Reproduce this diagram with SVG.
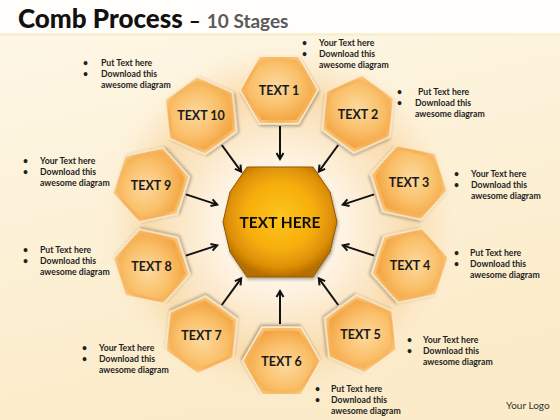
<svg xmlns="http://www.w3.org/2000/svg" xmlns:xlink="http://www.w3.org/1999/xlink" width="560" height="420" viewBox="0 0 560 420">
  <defs>
    <linearGradient id="bg" x1="0" y1="0" x2="0.3" y2="1">
      <stop offset="0" stop-color="#FEF8E8"/>
      <stop offset="1" stop-color="#FBEBC8"/>
    </linearGradient>
    <radialGradient id="glow" cx="280" cy="225" r="185" gradientUnits="userSpaceOnUse">
      <stop offset="0" stop-color="#FFFDF8"/>
      <stop offset="0.35" stop-color="#FEF3E2"/>
      <stop offset="0.72" stop-color="#F9DCAE"/>
      <stop offset="0.86" stop-color="#FBE6C4" stop-opacity="0.6"/>
      <stop offset="1" stop-color="#FCF1D8" stop-opacity="0"/>
    </radialGradient>
    <radialGradient id="hexFace" cx="0.45" cy="0.42" r="0.6">
      <stop offset="0" stop-color="#FCD99E"/>
      <stop offset="0.6" stop-color="#FAC06A"/>
      <stop offset="1" stop-color="#F4A645"/>
    </radialGradient>
    <radialGradient id="hexRim" cx="0.5" cy="0.5" r="0.55">
      <stop offset="0.8" stop-color="#F6B25A"/>
      <stop offset="1" stop-color="#F9C983"/>
    </radialGradient>
    <radialGradient id="core" cx="0.5" cy="0.45" r="0.55">
      <stop offset="0" stop-color="#FDC41E"/>
      <stop offset="0.55" stop-color="#F6AE0C"/>
      <stop offset="0.85" stop-color="#DC8E06"/>
      <stop offset="1" stop-color="#B56E05"/>
    </radialGradient>
    <filter id="shadow" x="-20%" y="-20%" width="140%" height="140%">
      <feGaussianBlur in="SourceAlpha" stdDeviation="1.5"/>
      <feOffset dx="1" dy="2" result="b"/>
      <feComponentTransfer><feFuncA type="linear" slope="0.3"/></feComponentTransfer>
      <feMerge><feMergeNode/><feMergeNode in="SourceGraphic"/></feMerge>
    </filter>
    <polygon id="hexOuter" points="39,0 19.5,33.8 -19.5,33.8 -39,0 -19.5,-33.8 19.5,-33.8"/>
    <polygon id="hexInner" points="34.5,0 17.25,29.9 -17.25,29.9 -34.5,0 -17.25,-29.9 17.25,-29.9"/>
    <marker id="arr" markerWidth="10" markerHeight="10" refX="7" refY="4" orient="auto" markerUnits="userSpaceOnUse" viewBox="0 0 10 8">
      <path d="M1,0.5 L7,4 L1,7.5" fill="none" stroke="#111" stroke-width="2" stroke-linejoin="miter"/>
    </marker>
  </defs>
  <style>
    .title{font-family:Lato,"Open Sans","Liberation Sans",sans-serif;font-weight:900}
    .hex .rim{fill:url(#hexRim);stroke:#FDEBC9;stroke-width:1.5}
    .hex .face{fill:url(#hexFace)}
    .lbl{font-family:Lato,"Open Sans","Liberation Sans",sans-serif;font-weight:bold;font-size:12.5px;fill:#1A1A1A;text-anchor:middle}
    .core{font-family:Lato,"Open Sans","Liberation Sans",sans-serif;font-weight:bold;font-size:15.5px;fill:#111;text-anchor:middle}
    .note{font-family:Lato,"Open Sans","Liberation Sans",sans-serif;font-weight:bold;font-size:8.7px;fill:#1F1F1F}
    .conn line{stroke:#111;stroke-width:2;marker-end:url(#arr)}
  </style>

  <rect width="560" height="420" fill="url(#bg)"/>
  <rect width="560" height="33" fill="#FFFEFA"/>
  <rect y="33" width="560" height="3" fill="#FBEFD3"/>
  <circle cx="280" cy="225" r="185" fill="url(#glow)"/>

  <text class="title" x="18" y="28" font-size="26" fill="#111">Comb Process <tspan font-size="20">–</tspan> <tspan font-size="19" font-weight="bold" fill="#5A5A5A">10 Stages</tspan></text>

  <g id="connectors" class="conn">
    <line x1="280" y1="126" x2="280" y2="159"/>
    <line x1="338.2" y1="145" x2="318.8" y2="171.6"/>
    <line x1="374.1" y1="194.4" x2="342.8" y2="204.6"/>
    <line x1="374.1" y1="255.6" x2="342.8" y2="245.4"/>
    <line x1="338.2" y1="305" x2="318.8" y2="278.4"/>
    <line x1="280" y1="324" x2="280" y2="291"/>
    <line x1="221.8" y1="305" x2="241.2" y2="278.4"/>
    <line x1="185.9" y1="255.6" x2="217.2" y2="245.4"/>
    <line x1="185.9" y1="194.4" x2="217.2" y2="204.6"/>
    <line x1="221.8" y1="145" x2="241.2" y2="171.6"/>
  </g>

  <g id="center" filter="url(#shadow)">
    <polygon points="247,167 313,167 330,192 337,222 330,252 313,277 247,277 230,252 223,222 230,192" fill="url(#core)" stroke="#8C5A08" stroke-width="1"/>
    <text class="core" x="280" y="228">TEXT HERE</text>
  </g>

  <g id="n1" class="hex" transform="translate(279,90)">
    <g filter="url(#shadow)"><use xlink:href="#hexOuter" class="rim"/><use xlink:href="#hexInner" class="face"/></g>
    <text class="lbl" y="4.5">TEXT 1</text>
  </g>
  <g id="n2" class="hex" transform="translate(358,114)">
    <g filter="url(#shadow)" transform="rotate(36)"><use xlink:href="#hexOuter" class="rim"/><use xlink:href="#hexInner" class="face"/></g>
    <text class="lbl" y="4.5">TEXT 2</text>
  </g>
  <g id="n3" class="hex" transform="translate(409,182.5)">
    <g filter="url(#shadow)" transform="rotate(72)"><use xlink:href="#hexOuter" class="rim"/><use xlink:href="#hexInner" class="face"/></g>
    <text class="lbl" y="4.5">TEXT 3</text>
  </g>
  <g id="n4" class="hex" transform="translate(410,265.5)">
    <g filter="url(#shadow)" transform="rotate(108)"><use xlink:href="#hexOuter" class="rim"/><use xlink:href="#hexInner" class="face"/></g>
    <text class="lbl" y="4.5">TEXT 4</text>
  </g>
  <g id="n5" class="hex" transform="translate(360.5,334)">
    <g filter="url(#shadow)" transform="rotate(144)"><use xlink:href="#hexOuter" class="rim"/><use xlink:href="#hexInner" class="face"/></g>
    <text class="lbl" y="4.5">TEXT 5</text>
  </g>
  <g id="n6" class="hex" transform="translate(281.5,361)">
    <g filter="url(#shadow)" transform="rotate(180)"><use xlink:href="#hexOuter" class="rim"/><use xlink:href="#hexInner" class="face"/></g>
    <text class="lbl" y="4.5">TEXT 6</text>
  </g>
  <g id="n7" class="hex" transform="translate(201.5,335)">
    <g filter="url(#shadow)" transform="rotate(216)"><use xlink:href="#hexOuter" class="rim"/><use xlink:href="#hexInner" class="face"/></g>
    <text class="lbl" y="4.5">TEXT 7</text>
  </g>
  <g id="n8" class="hex" transform="translate(151.5,266.5)">
    <g filter="url(#shadow)" transform="rotate(252)"><use xlink:href="#hexOuter" class="rim"/><use xlink:href="#hexInner" class="face"/></g>
    <text class="lbl" y="4.5">TEXT 8</text>
  </g>
  <g id="n9" class="hex" transform="translate(151,185)">
    <g filter="url(#shadow)" transform="rotate(288)"><use xlink:href="#hexOuter" class="rim"/><use xlink:href="#hexInner" class="face"/></g>
    <text class="lbl" y="4.5">TEXT 9</text>
  </g>
  <g id="n10" class="hex" transform="translate(201,115.5)">
    <g filter="url(#shadow)" transform="rotate(324)"><use xlink:href="#hexOuter" class="rim"/><use xlink:href="#hexInner" class="face"/></g>
    <text class="lbl" y="4.5">TEXT 10</text>
  </g>

  <g id="notes" class="note">
    <g id="note1"><text x="302" y="46">•</text><text x="302" y="57">•</text>
      <text x="319" y="46">Your Text here</text><text x="319" y="57">Download this</text><text x="319" y="68">awesome diagram</text></g>
    <g id="note2"><text x="397" y="95">•</text><text x="397" y="106">•</text>
      <text x="418" y="95">Put Text here</text><text x="415" y="106">Download this</text><text x="415" y="117">awesome diagram</text></g>
    <g id="note3"><text x="454" y="177">•</text><text x="454" y="188">•</text>
      <text x="471" y="177">Your Text here</text><text x="471" y="188">Download this</text><text x="471" y="199">awesome diagram</text></g>
    <g id="note4"><text x="454" y="256">•</text><text x="454" y="267">•</text>
      <text x="470" y="256">Put Text  here</text><text x="470" y="267">Download this</text><text x="470" y="278">awesome diagram</text></g>
    <g id="note5"><text x="407" y="343">•</text><text x="407" y="354">•</text>
      <text x="423" y="343">Your Text  here</text><text x="423" y="354">Download this</text><text x="423" y="365">awesome diagram</text></g>
    <g id="note6"><text x="315" y="392">•</text><text x="315" y="403">•</text>
      <text x="331" y="392">Put Text  here</text><text x="331" y="403">Download this</text><text x="331" y="414">awesome diagram</text></g>
    <g id="note7"><text x="82" y="351">•</text><text x="82" y="362">•</text>
      <text x="99" y="351">Your Text  here</text><text x="99" y="362">Download this</text><text x="99" y="373">awesome diagram</text></g>
    <g id="note8"><text x="23" y="253">•</text><text x="23" y="264">•</text>
      <text x="40" y="253">Put Text  here</text><text x="40" y="264">Download this</text><text x="40" y="275">awesome diagram</text></g>
    <g id="note9"><text x="23" y="164">•</text><text x="23" y="175">•</text>
      <text x="40" y="164">Your Text  here</text><text x="40" y="175">Download this</text><text x="40" y="186">awesome diagram</text></g>
    <g id="note10"><text x="83" y="66">•</text><text x="83" y="77">•</text>
      <text x="101" y="66">Put Text  here</text><text x="101" y="77">Download this</text><text x="101" y="88">awesome diagram</text></g>
  </g>

  <text x="506" y="409" font-family="Lato,'Open Sans','Liberation Sans',sans-serif" font-size="10" fill="#333">Your Logo</text>
</svg>
